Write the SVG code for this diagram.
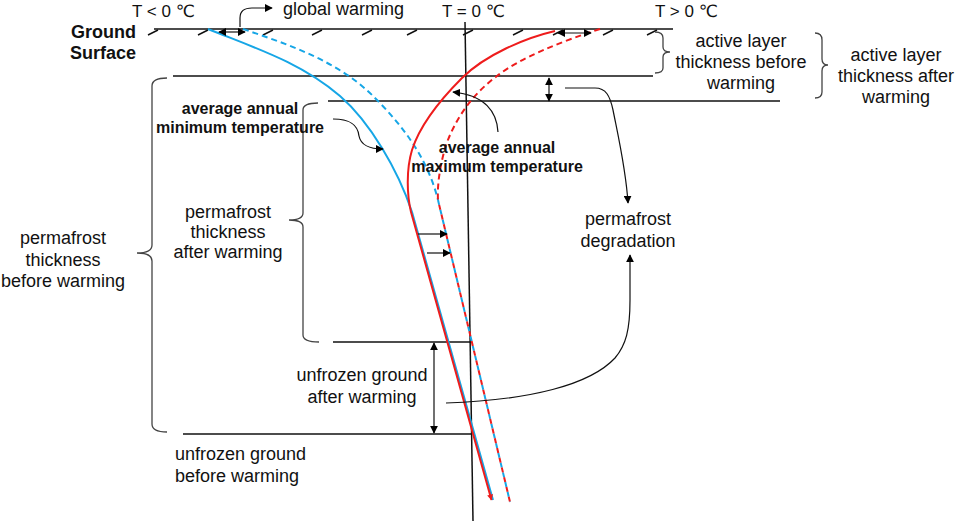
<svg xmlns="http://www.w3.org/2000/svg" width="957" height="522" viewBox="0 0 957 522">
<defs>
<marker id="ah" viewBox="0 0 10 10" refX="9" refY="5" markerWidth="8" markerHeight="8" markerUnits="userSpaceOnUse" orient="auto-start-reverse"><path d="M0,0 L10,5 L0,10 z" fill="#000"/></marker>
<marker id="ahr" viewBox="0 0 10 10" refX="9" refY="5" markerWidth="6" markerHeight="6" markerUnits="userSpaceOnUse" orient="auto"><path d="M0,0 L10,5 L0,10 z" fill="#EE1C1C"/></marker>
<style>
text{font-family:"Liberation Sans",Arial,"DejaVu Sans",sans-serif;fill:#111;font-size:18px}
.b{font-weight:bold;font-size:16px}
.g{font-weight:bold;font-size:18px}
.m{text-anchor:middle}
.t{font-size:17px}
.ln{fill:none;stroke:#111;stroke-width:1.5}
.br{fill:none;stroke:#444;stroke-width:1.3}
.con{fill:none;stroke:#111;stroke-width:1.2}
.blue{fill:none;stroke:#16A6E6;stroke-width:2}
.red{fill:none;stroke:#EE1C1C;stroke-width:2}
.dash{stroke-dasharray:6 4}
</style>
</defs>
<g id="ground">
<path class="ln" d="M154,29 L673,29"/>
<path class="ln" stroke-width="1.2" d="M148,35 L158,30 M198,35 L208,30 M263,35 L273,30 M312,35 L322,30 M362,35 L372,30 M407,35 L417,30 M463,35 L473,30 M513,35 L523,30 M553,35 L563,30 M603,35 L613,30 M647,35 L657,30"/>
<text class="g" x="71" y="38">Ground</text>
<text class="g" x="70" y="59">Surface</text>
</g>
<g id="layers">
<path class="ln" stroke-width="2" d="M173,76 L653,76"/>
<path class="ln" stroke="#333" d="M328,101 L780,101"/>
<path class="ln" stroke="#555" d="M333,342 L471,342"/>
<path class="ln" stroke-width="2" d="M183,434 L472,434"/>
<path class="ln" d="M465,22 L473,521"/>
</g>
<g id="axis-labels">
<text class="t" x="132" y="17">T &lt; 0 ℃</text>
<text x="283" y="15">global warming</text>
<text class="t" x="442" y="17">T = 0 ℃</text>
<text class="t" x="655" y="17">T &gt; 0 ℃</text>
</g>
<g id="brackets">
<path class="br" d="M167,78 Q152,78 152,86 L152,245 Q152,253 137,253 Q152,253 152,261 L152,424 Q152,432 167,432"/>
<path class="br" d="M318,103 Q303,103 303,110 L303,213 Q303,220 289,220 Q303,220 303,227 L303,335 Q303,342 319,342"/>
<path class="br" d="M655,32 Q663,32 663,38 L663,47 Q663,52 670,52 Q663,52 663,57 L663,68 Q663,73 655,73"/>
<path class="br" d="M815,33 Q822,33 822,40 L822,59 Q822,65 828,65 Q822,65 822,71 L822,92 Q822,98 815,98"/>
</g>
<g id="curves">
<path class="blue" d="M208,29 C255,48 300,62 340,96 C370,122 398,170 412,212 L493,500"/>
<path class="blue dash" d="M243,29 C290,45 340,62 375,98 C405,128 428,160 438,200"/>
<path class="red" d="M555,31 C525,38 485,55 462,78 C440,100 420,125 412,150 C406,170 407,195 411,212 L491.5,500" marker-end="url(#ahr)"/>
<path class="red dash" d="M600,29 C560,42 520,58 497,76 C478,90 458,112 446,145 C441,162 437,182 438,200"/>
<path class="blue" stroke-dasharray="5 5" d="M438,200 L510,502"/>
<path class="red" stroke-dasharray="5 5" stroke-dashoffset="5" d="M438,200 L510,502"/>
</g>
<g id="connectors">
<path class="con" d="M240,27 L240,18 Q240,8 252,8 L272,8" marker-end="url(#ah)"/>
<path class="con" d="M219,32 L245,32" marker-start="url(#ah)" marker-end="url(#ah)"/>
<path class="con" d="M558,33 L591,33" marker-start="url(#ah)" marker-end="url(#ah)"/>
<path class="con" d="M549,78 L549,101" marker-start="url(#ah)" marker-end="url(#ah)"/>
<path class="con" d="M434,343 L434,433" marker-start="url(#ah)" marker-end="url(#ah)"/>
<path class="con" d="M418,234 L447,234" marker-end="url(#ah)"/>
<path class="con" d="M427,253 L450,253" marker-end="url(#ah)"/>
<path class="con" d="M333,119 C352,119 358,126 359,136 C361,146 370,149 383,149" marker-end="url(#ah)"/>
<path class="con" d="M498,132 C497,112 485,95 453,92" marker-end="url(#ah)"/>
<path class="con" d="M565,88 L595,88 C606,88 610,96 613,110 C619,140 626,170 628,203" marker-end="url(#ah)"/>
<path class="con" d="M446,403 C530,400 590,385 615,358 C626,345 630,330 630,300 L630,255" marker-end="url(#ah)"/>
</g>
<g id="label-active-before"><text class="m" x="741" y="47">active layer</text><text class="m" x="741" y="68">thickness before</text><text class="m" x="741" y="89">warming</text></g>
<g id="label-active-after"><text class="m" x="896" y="61">active layer</text><text class="m" x="896" y="82">thickness after</text><text class="m" x="896" y="103">warming</text></g>
<g id="label-min"><text class="b m" x="240" y="114">average annual</text><text class="b m" x="240" y="133">minimum temperature</text></g>
<g id="label-max"><text class="b m" x="497" y="153">average annual</text><text class="b m" x="497" y="172">maximum temperature</text></g>
<g id="label-pf-after"><text class="m" x="228" y="218">permafrost</text><text class="m" x="228" y="238">thickness</text><text class="m" x="228" y="258">after warming</text></g>
<g id="label-pf-before"><text class="m" x="63" y="244">permafrost</text><text class="m" x="63" y="266">thickness</text><text class="m" x="63" y="287">before warming</text></g>
<g id="label-degradation"><text class="m" x="628" y="225">permafrost</text><text class="m" x="628" y="247">degradation</text></g>
<g id="label-unfrozen-after"><text class="m" x="362" y="381">unfrozen ground</text><text class="m" x="362" y="403">after warming</text></g>
<g id="label-unfrozen-before"><text x="175" y="460">unfrozen ground</text><text x="175" y="482">before warming</text></g>
</svg>
